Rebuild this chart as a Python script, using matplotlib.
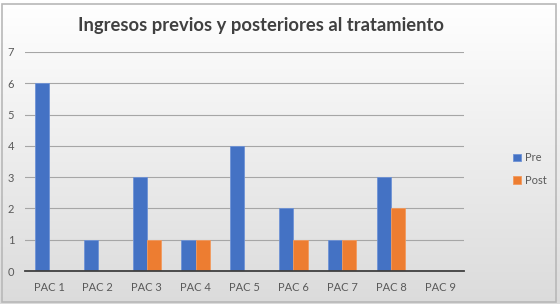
import numpy as np
import matplotlib
matplotlib.use("Agg")
import matplotlib.pyplot as plt
from matplotlib.patches import Rectangle

categories = ["PAC 1", "PAC 2", "PAC 3", "PAC 4", "PAC 5", "PAC 6", "PAC 7", "PAC 8", "PAC 9"]
pre = [6, 1, 3, 1, 4, 2, 1, 3, 0]
post = [0, 0, 1, 1, 0, 1, 1, 2, 0]
title = "Ingresos previos y posteriores al tratamiento"

plt.rcParams['font.family'] = ['Lato', 'DejaVu Sans']

W, H = 560, 304
fig = plt.figure(figsize=(W/100, H/100), dpi=100)

# gradient background
bg = fig.add_axes([0, 0, 1, 1], zorder=-10)
grad = np.linspace(1.0, 0.86, 256).reshape(-1, 1)
bg.imshow(np.dstack([grad, grad, grad]), aspect='auto', extent=[0, 1, 0, 1], origin='upper')
bg.set_xlim(0, 1); bg.set_ylim(0, 1)
bg.axis('off')
bg.add_patch(Rectangle((2/W, 2/H), (W-6)/W, (H-6)/H, fill=False, edgecolor='#b8b8b8', lw=1.2))

ax = fig.add_axes([24.5/W, 1-271/H, 440/W, (271-52)/H])
ax.patch.set_alpha(0)
x = np.arange(len(categories))
bw = 0.29
ax.bar(x - bw/2, pre, bw, color='#4472C4', label='Pre', zorder=3, edgecolor='#6f93d6', lw=0.6)
ax.bar(x + bw/2, post, bw, color='#ED7D31', label='Post', zorder=3, edgecolor='#f29a5e', lw=0.6)
ax.set_xlim(-0.5, len(categories) - 0.5)
ax.set_ylim(0, 7)
ax.set_yticks(range(0, 8))
ax.set_xticks(x)
ax.set_xticklabels(categories)
ax.yaxis.grid(True, color='#a6a6a6', lw=0.8, zorder=0)
for s in ['top', 'right', 'left']:
    ax.spines[s].set_visible(False)
ax.spines['bottom'].set_color('#404040')
ax.spines['bottom'].set_linewidth(1.3)
ax.spines['bottom'].set_zorder(4)
ax.tick_params(axis='both', length=0, labelsize=8, colors='#595959')
ax.tick_params(axis='x', pad=8)
ax.tick_params(axis='y', pad=12)
for lbl in ax.get_yticklabels():
    lbl.set_horizontalalignment('left')

fig.text(0.5 * (77 + 445) / W, 1 - 26/H, title, ha='center', va='center',
         fontsize=13.2, fontweight='bold', color='#404040')

leg = ax.legend(loc='center left', bbox_to_anchor=(503/W, 1-169/H), bbox_transform=fig.transFigure,
                frameon=False, fontsize=8, handlelength=0.7, handleheight=0.7,
                labelspacing=1.0, handletextpad=0.4)
for t in leg.get_texts():
    t.set_color('#595959')

fig.savefig('out.png', dpi=100)
